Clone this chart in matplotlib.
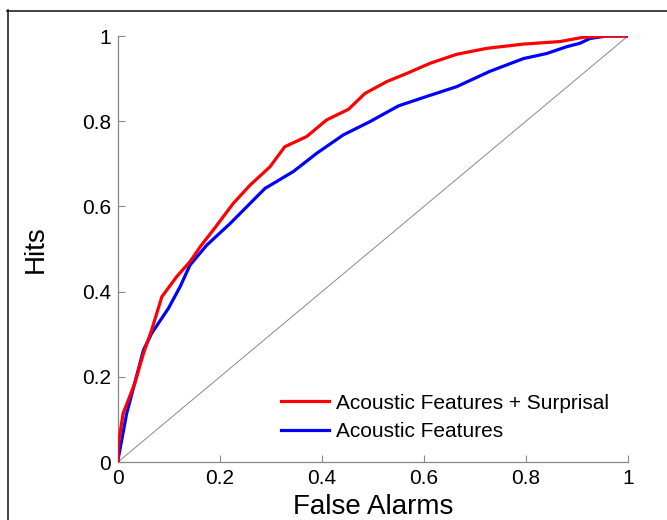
import matplotlib
matplotlib.use("Agg")
import matplotlib.pyplot as plt
from matplotlib.lines import Line2D

plt.rcParams['font.family'] = ['Liberation Sans', 'DejaVu Sans']

# ROC curve: acoustic features + surprisal
fa_surp = [0.0, 0.0, 0.010, 0.033, 0.050, 0.066, 0.086, 0.115, 0.141, 0.161, 0.187,
           0.226, 0.259, 0.298, 0.327, 0.370, 0.409, 0.452, 0.484, 0.527, 0.566,
           0.612, 0.664, 0.723, 0.795, 0.867, 0.912, 0.96, 1.0]
hits_surp = [0.0, 0.036, 0.114, 0.185, 0.255, 0.310, 0.388, 0.435, 0.470, 0.505, 0.545,
             0.607, 0.650, 0.693, 0.740, 0.764, 0.803, 0.828, 0.865, 0.893, 0.912,
             0.936, 0.957, 0.971, 0.981, 0.987, 0.997, 1.0, 1.0]

# ROC curve: acoustic features only
fa_ac = [0.0, 0.0, 0.017, 0.050, 0.066, 0.099, 0.122, 0.141, 0.174, 0.220, 0.259,
         0.288, 0.344, 0.390, 0.442, 0.494, 0.550, 0.605, 0.664, 0.729, 0.795,
         0.841, 0.880, 0.906, 0.925, 0.958, 1.0]
hits_ac = [0.0, 0.005, 0.114, 0.263, 0.302, 0.361, 0.412, 0.462, 0.509, 0.560, 0.607,
           0.642, 0.682, 0.725, 0.768, 0.799, 0.836, 0.858, 0.881, 0.917, 0.947,
           0.959, 0.975, 0.983, 0.994, 1.0, 1.0]

ticks = [0, 0.2, 0.4, 0.6, 0.8, 1]
tick_labels = ['0', '0.2', '0.4', '0.6', '0.8', '1']

fig = plt.figure(figsize=(6.67, 5.2), dpi=100, facecolor='white')
ax = fig.add_axes([118/667, 58/520, 510/667, 426/520])

ax.plot([0, 1], [0, 1], color='#888888', lw=0.7, zorder=1)
ax.plot(fa_surp, hits_surp, color='#ff0000', lw=2.3, label='Acoustic Features + Surprisal', zorder=3)
ax.plot(fa_ac, hits_ac, color='#0000ff', lw=2.3, label='Acoustic Features', zorder=2)

ax.set_xlim(0, 1)
ax.set_ylim(0, 1)
ax.set_xticks(ticks)
ax.set_xticklabels(tick_labels)
ax.set_yticks(ticks)
ax.set_yticklabels(tick_labels)
ax.tick_params(direction='in', length=5, width=0.8, color='#888888', labelsize=15, pad=5)

for s in ['top', 'right']:
    ax.spines[s].set_visible(False)
for s in ['left', 'bottom']:
    ax.spines[s].set_color('#888888')
    ax.spines[s].set_linewidth(0.9)

ax.set_xlabel('False Alarms', fontsize=20, labelpad=4)
ax.set_ylabel('Hits', fontsize=20, labelpad=24)

ax.legend(loc='lower right', bbox_to_anchor=(1.0, 0.005), frameon=False, fontsize=15,
          handlelength=2.3, handletextpad=0.35, labelspacing=0.45)

# figure border (top and left edges visible)
fig.add_artist(Line2D([7.5/667, 7.5/667], [0, 1 - 10/520], color='#222222', lw=1.2))
fig.add_artist(Line2D([7/667, 1], [1 - 10.5/520, 1 - 10.5/520], color='#222222', lw=1.2))

fig.savefig('out.png', dpi=100)
